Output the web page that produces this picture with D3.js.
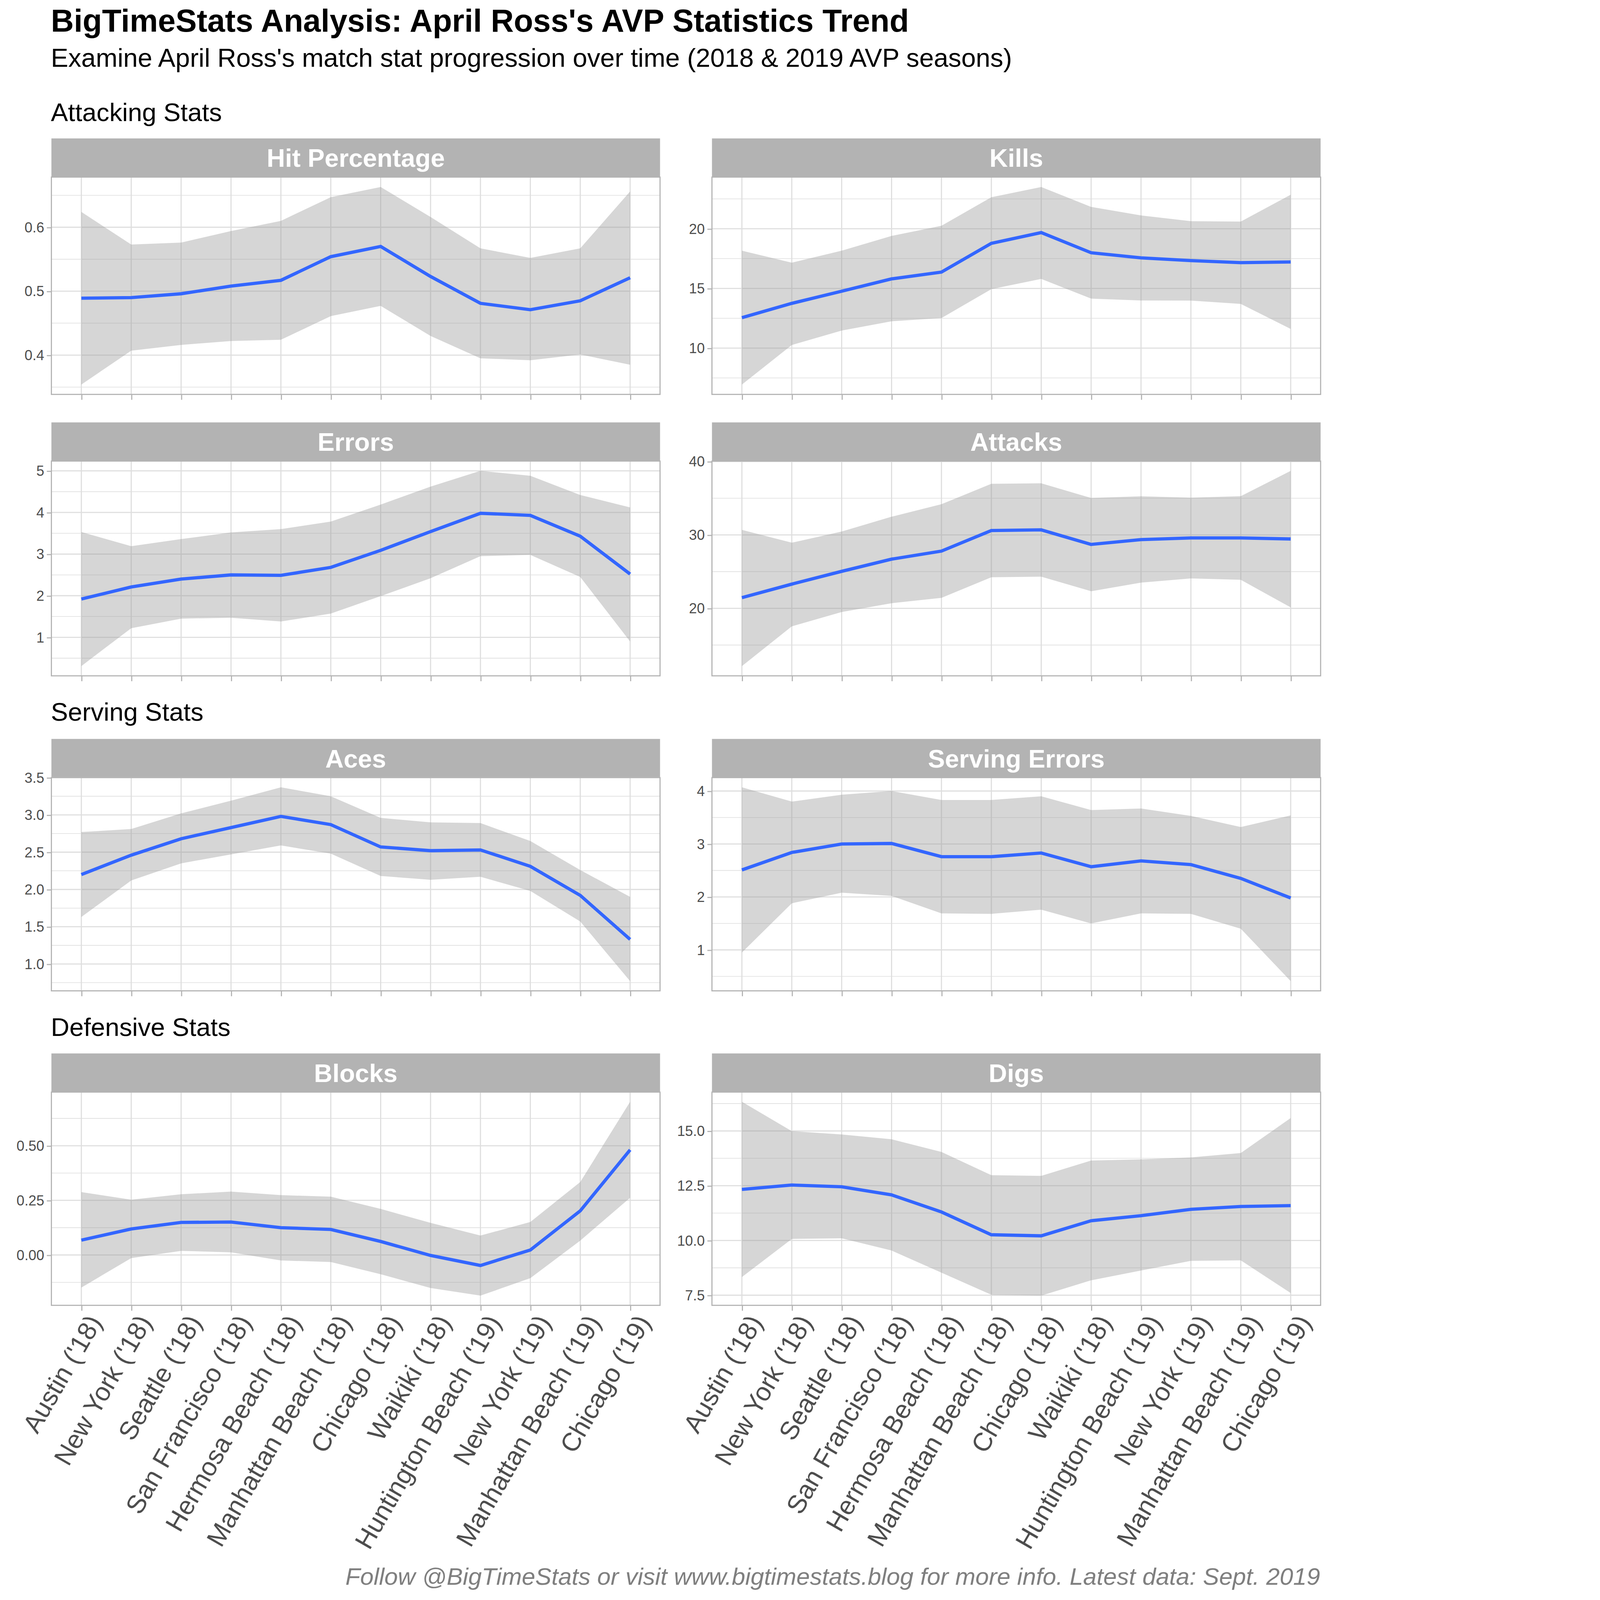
<!DOCTYPE html>
<html>
<head>
<meta charset="utf-8">
<script src="https://cdn.jsdelivr.net/npm/d3@7"></script>
<style>
  html, body { margin: 0; padding: 0; background: #fff; overflow: hidden; }
  svg { display: block; }
  text { font-family: "Liberation Sans", Arial, sans-serif; }
</style>
</head>
<body>
<div id="chart"></div>
<script>
// events in order
const events = ["Austin ('18)", "New York ('18)", "Seattle ('18)", "San Francisco ('18)",
  "Hermosa Beach ('18)", "Manhattan Beach ('18)", "Chicago ('18)", "Waikiki ('18)",
  "Huntington Beach ('19)", "New York ('19)", "Manhattan Beach ('19)", "Chicago ('19)"];

// smoothed fit + confidence band
const hitFit = [0.489, 0.490, 0.496, 0.508, 0.517, 0.554, 0.570, 0.523, 0.481, 0.471, 0.485, 0.521];
const hitLo  = [0.354, 0.407, 0.416, 0.422, 0.424, 0.461, 0.477, 0.430, 0.395, 0.392, 0.401, 0.385];
const hitHi  = [0.624, 0.573, 0.576, 0.594, 0.610, 0.647, 0.663, 0.616, 0.567, 0.552, 0.567, 0.656];

const killsFit = [12.55, 13.75, 14.77, 15.8, 16.37, 18.78, 19.68, 17.99, 17.56, 17.33, 17.16, 17.22];
const killsLo  = [6.95, 10.26, 11.47, 12.25, 12.52, 14.94, 15.8, 14.15, 13.99, 13.98, 13.7, 11.61];
const killsHi  = [18.16, 17.16, 18.16, 19.4, 20.25, 22.64, 23.5, 21.83, 21.12, 20.63, 20.6, 22.85];

const errFit = [1.92, 2.21, 2.40, 2.50, 2.49, 2.68, 3.09, 3.54, 3.98, 3.93, 3.43, 2.52];
const errLo  = [0.31, 1.22, 1.45, 1.47, 1.38, 1.57, 1.99, 2.42, 2.95, 2.98, 2.45, 0.90];
const errHi  = [3.53, 3.19, 3.36, 3.52, 3.60, 3.78, 4.19, 4.62, 5.00, 4.88, 4.42, 4.12];

const attFit = [21.46, 23.3, 25.04, 26.7, 27.8, 30.6, 30.69, 28.71, 29.36, 29.59, 29.59, 29.45];
const attLo  = [12.14, 17.55, 19.5, 20.7, 21.43, 24.24, 24.31, 22.33, 23.5, 24.08, 23.89, 20.13];
const attHi  = [30.69, 28.94, 30.46, 32.48, 34.18, 36.96, 37.03, 35.03, 35.26, 35.07, 35.28, 38.73];

const acesFit = [2.20, 2.46, 2.68, 2.83, 2.98, 2.87, 2.57, 2.52, 2.53, 2.31, 1.92, 1.33];
const acesLo  = [1.63, 2.12, 2.35, 2.47, 2.59, 2.48, 2.18, 2.13, 2.17, 1.98, 1.57, 0.77];
const acesHi  = [2.77, 2.81, 3.02, 3.19, 3.37, 3.25, 2.96, 2.90, 2.89, 2.65, 2.26, 1.90];

const serrFit = [2.51, 2.84, 3.00, 3.01, 2.76, 2.76, 2.83, 2.57, 2.68, 2.61, 2.35, 1.98];
const serrLo  = [0.95, 1.88, 2.08, 2.02, 1.69, 1.68, 1.76, 1.50, 1.69, 1.68, 1.40, 0.41];
const serrHi  = [4.07, 3.80, 3.93, 4.00, 3.83, 3.83, 3.90, 3.64, 3.67, 3.53, 3.32, 3.54];

const blkFit = [0.068, 0.119, 0.149, 0.151, 0.125, 0.117, 0.062, -0.002, -0.048, 0.023, 0.202, 0.481];
const blkLo  = [-0.149, -0.014, 0.019, 0.012, -0.025, -0.032, -0.088, -0.151, -0.186, -0.106, 0.066, 0.262];
const blkHi  = [0.288, 0.253, 0.278, 0.290, 0.274, 0.267, 0.211, 0.147, 0.089, 0.151, 0.334, 0.701];

const digFit = [12.33, 12.53, 12.45, 12.08, 11.30, 10.26, 10.21, 10.90, 11.13, 11.42, 11.55, 11.59];
const digLo  = [8.33, 10.07, 10.10, 9.54, 8.53, 7.52, 7.48, 8.18, 8.63, 9.07, 9.09, 7.60];
const digHi  = [16.33, 14.99, 14.84, 14.62, 14.04, 12.98, 12.95, 13.65, 13.70, 13.79, 13.99, 15.59];

// y tick labels
const hitTicks = [0.4, 0.5, 0.6];
const killsTicks = [10, 15, 20];
const errTicks = [1, 2, 3, 4, 5];
const attTicks = [20, 30, 40];
const acesTicks = [1.0, 1.5, 2.0, 2.5, 3.0, 3.5];
const serrTicks = [1, 2, 3, 4];
const blkTicks = [0.00, 0.25, 0.50];
const digTicks = [7.5, 10.0, 12.5, 15.0];

const sections = ["Attacking Stats", "Serving Stats", "Defensive Stats"];

const panels = [
  { title: "Hit Percentage", fit: hitFit, lo: hitLo, hi: hitHi, ticks: hitTicks, fmt: ".1f", row: 0, col: 0 },
  { title: "Kills", fit: killsFit, lo: killsLo, hi: killsHi, ticks: killsTicks, fmt: "d", row: 0, col: 1 },
  { title: "Errors", fit: errFit, lo: errLo, hi: errHi, ticks: errTicks, fmt: "d", row: 1, col: 0 },
  { title: "Attacks", fit: attFit, lo: attLo, hi: attHi, ticks: attTicks, fmt: "d", row: 1, col: 1 },
  { title: "Aces", fit: acesFit, lo: acesLo, hi: acesHi, ticks: acesTicks, fmt: ".1f", row: 2, col: 0 },
  { title: "Serving Errors", fit: serrFit, lo: serrLo, hi: serrHi, ticks: serrTicks, fmt: "d", row: 2, col: 1 },
  { title: "Blocks", fit: blkFit, lo: blkLo, hi: blkHi, ticks: blkTicks, fmt: ".2f", row: 3, col: 0 },
  { title: "Digs", fit: digFit, lo: digLo, hi: digHi, ticks: digTicks, fmt: ".1f", row: 3, col: 1 }
];

// layout in a 1310 x 1572 frame, scaled to the window
const W = 1310, H = 1572;
const colX = [50.5, 699.5], panelW = 598;
const stripTop = [136, 415, 726, 1035];
const stripH = 38;
const panelBottom = [387.5, 664, 973.5, 1282.5];
const sectionY = [119, 708, 1018];

const svg = d3.select("#chart").append("svg")
  .attr("viewBox", "0 0 " + W + " " + H)
  .attr("preserveAspectRatio", "xMinYMin meet")
  .style("width", "100vw")
  .style("height", "100vh");

svg.append("rect").attr("width", W).attr("height", H).attr("fill", "#fff");

svg.append("text").attr("x", 50).attr("y", 31)
  .style("font-size", "31.2px").style("font-weight", "bold").attr("fill", "#000")
  .text("BigTimeStats Analysis: April Ross's AVP Statistics Trend");
svg.append("text").attr("x", 50).attr("y", 65.5)
  .style("font-size", "25.6px").attr("fill", "#000")
  .text("Examine April Ross's match stat progression over time (2018 & 2019 AVP seasons)");

svg.selectAll(".section").data(sections).enter().append("text")
  .attr("x", 50).attr("y", (d, i) => sectionY[i])
  .style("font-size", "25.2px").attr("fill", "#000")
  .text(d => d);

panels.forEach(p => {
  const x0 = colX[p.col], x1 = x0 + panelW;
  const top = stripTop[p.row] + stripH, bottom = panelBottom[p.row];

  const x = d3.scalePoint().domain(events).range([x0, x1]).padding(0.6);

  const lo = d3.min(p.lo), hi = d3.max(p.hi);
  const pad = (hi - lo) * 0.05;
  const y = d3.scaleLinear().domain([lo - pad, hi + pad]).range([bottom, top]);

  const g = svg.append("g");

  // strip
  g.append("rect").attr("x", x0).attr("y", stripTop[p.row])
    .attr("width", panelW).attr("height", stripH).attr("fill", "#b3b3b3");
  g.append("text").attr("x", (x0 + x1) / 2).attr("y", stripTop[p.row] + stripH / 2 + 9)
    .attr("text-anchor", "middle").attr("fill", "#fff")
    .style("font-size", "25px").style("font-weight", "bold")
    .text(p.title);

  // grid
  const step = p.ticks[1] - p.ticks[0];
  const minors = [p.ticks[0] - step / 2].concat(p.ticks.map(t => t + step / 2))
    .filter(v => v >= y.domain()[0] && v <= y.domain()[1]);
  g.selectAll(".minor").data(minors).enter().append("line")
    .attr("x1", x0).attr("x2", x1).attr("y1", d => y(d)).attr("y2", d => y(d))
    .attr("stroke", "#dedede").attr("stroke-width", 0.6);
  g.selectAll(".major").data(p.ticks).enter().append("line")
    .attr("x1", x0).attr("x2", x1).attr("y1", d => y(d)).attr("y2", d => y(d))
    .attr("stroke", "#dedede").attr("stroke-width", 1.1);
  g.selectAll(".vgrid").data(events).enter().append("line")
    .attr("x1", d => x(d)).attr("x2", d => x(d)).attr("y1", top).attr("y2", bottom)
    .attr("stroke", "#dedede").attr("stroke-width", 1.1);

  // ribbon + fit line
  const idx = d3.range(events.length);
  g.append("path").datum(idx)
    .attr("d", d3.area().x(i => x(events[i])).y0(i => y(p.lo[i])).y1(i => y(p.hi[i])))
    .attr("fill", "#999999").attr("fill-opacity", 0.4);
  g.append("path").datum(idx)
    .attr("d", d3.line().x(i => x(events[i])).y(i => y(p.fit[i])))
    .attr("fill", "none").attr("stroke", "#3366FF").attr("stroke-width", 3.2);

  // border
  g.append("rect").attr("x", x0).attr("y", top).attr("width", panelW).attr("height", bottom - top)
    .attr("fill", "none").attr("stroke", "#b3b3b3").attr("stroke-width", 1.1);

  // axes
  const yAxis = g.append("g").attr("transform", "translate(" + x0 + ",0)")
    .call(d3.axisLeft(y).tickValues(p.ticks).tickFormat(d3.format(p.fmt)).tickSize(4.5).tickPadding(2.5));
  yAxis.select(".domain").remove();
  yAxis.selectAll("line").attr("stroke", "#b3b3b3").attr("stroke-width", 1.1);
  yAxis.selectAll("text").attr("fill", "#4d4d4d").style("font-size", "14px")
    .style("font-family", "Liberation Sans, Arial, sans-serif");

  const xAxis = g.append("g").attr("transform", "translate(0," + bottom + ")")
    .call(d3.axisBottom(x).tickSize(5.3).tickFormat(""));
  xAxis.select(".domain").remove();
  xAxis.selectAll("line").attr("stroke", "#b3b3b3").attr("stroke-width", 1.1);

  if (p.row === 3) {
    g.selectAll(".xlab").data(events).enter().append("text")
      .attr("transform", d => "translate(" + (x(d) + 5) + "," + (bottom + 7) + ") rotate(-60)")
      .attr("text-anchor", "end").attr("dy", "0.72em")
      .attr("fill", "#4d4d4d").style("font-size", "25.5px")
      .text(d => d);
  }
});

svg.append("text").attr("x", 1297).attr("y", 1557)
  .attr("text-anchor", "end").attr("fill", "#7f7f7f")
  .style("font-size", "23.8px").style("font-style", "italic")
  .text("Follow @BigTimeStats or visit www.bigtimestats.blog for more info. Latest data: Sept. 2019");
</script>
</body>
</html>
